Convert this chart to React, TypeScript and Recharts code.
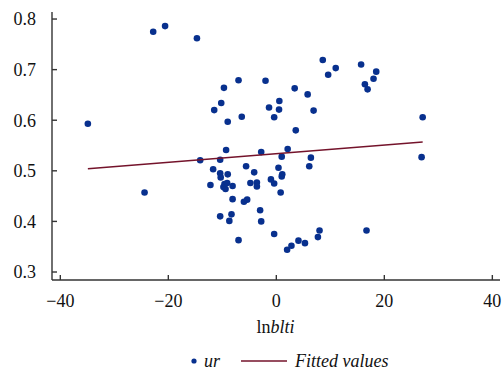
import { ScatterChart, Scatter, XAxis, YAxis } from "recharts"

// ur against lnblti
const lnblti = [
  -34.9, -24.4, -22.8, -20.6, -14.7, -14.1, -12.2, -11.7, -11.5, -10.4,
  -10.4, -10.3, -10.2, -10.4, -9.7, -9.6, -9.8, -9.4, -9.3, -9.1,
  -9.0, -9.0, -8.7, -8.3, -8.1, -8.1, -7.0, -7.0, -6.4, -6.0,
  -5.6, -5.4, -4.8, -4.1, -3.6, -3.6, -3.0, -2.8, -2.8, -2.0,
  -1.35, -1.0, -0.4, -0.4, -0.4, 0.4, 0.5, 0.56, 0.8, 1.0,
  1.1, 1.0, 2.0, 2.1, 2.8, 3.4, 3.6, 4.1, 5.3, 5.8,
  6.1, 6.4, 6.9, 7.7, 8.0, 8.6, 9.6, 11.0, 15.7, 16.4,
  16.7, 16.9, 18.0, 18.5, 26.9, 27.1,
]
const ur = [
  0.593, 0.457, 0.775, 0.786, 0.762, 0.521, 0.472, 0.503, 0.62, 0.522,
  0.495, 0.487, 0.634, 0.41, 0.664, 0.474, 0.468, 0.464, 0.541, 0.476,
  0.493, 0.597, 0.401, 0.414, 0.47, 0.444, 0.679, 0.363, 0.607, 0.439,
  0.509, 0.443, 0.476, 0.497, 0.477, 0.469, 0.422, 0.4, 0.537, 0.678,
  0.625, 0.483, 0.475, 0.606, 0.375, 0.506, 0.621, 0.638, 0.457, 0.528,
  0.493, 0.489, 0.344, 0.543, 0.352, 0.663, 0.58, 0.362, 0.357, 0.651,
  0.509, 0.526, 0.619, 0.369, 0.382, 0.719, 0.69, 0.703, 0.71, 0.671,
  0.382, 0.661, 0.682, 0.696, 0.527, 0.606,
]
const fitX = [-34.9, 27.1]
const fitY = [0.504, 0.557]
const xTicks = [-40, -20, 0, 20, 40]
const yTicks = [0.3, 0.4, 0.5, 0.6, 0.7, 0.8]

const points = lnblti.map((x, i) => ({ x, y: ur[i] }))
const fitted = fitX.map((x, i) => ({ x, y: fitY[i] }))

const NAVY = "#08308e"
const MAROON = "#74132b"
const AXIS = "#333"
const INK = "#111"
const FONT = "Liberation Serif"

const fmtX = (v: number) => (v < 0 ? "\u2212" + Math.abs(v) : String(v))

const Dot = (props: any) => <circle cx={props.cx} cy={props.cy} r={3.3} fill={NAVY} />
const NoDot = () => <g />

const XTick = (props: any) => (
  <text x={props.x} y={props.y} dy="0.71em" textAnchor="middle" fontSize={18} fontFamily={FONT} fill={INK}>
    {fmtX(props.payload.value)}
  </text>
)
const YTick = (props: any) => (
  <text x={props.x} y={props.y} dy="0.355em" textAnchor="end" fontSize={18} fontFamily={FONT} fill={INK}>
    {Number(props.payload.value).toFixed(1)}
  </text>
)

export default function App() {
  return (
    <div style={{ position: "absolute", left: 0, top: 0, width: 502, height: 370, background: "#fff" }}>
      <ScatterChart width={502} height={370} margin={{ top: 12, right: 2, bottom: 30, left: 0 }}>
        <XAxis
          type="number"
          dataKey="x"
          domain={[-41.54, 41.42]}
          ticks={xTicks}
          height={60}
          tickSize={-5}
          tickMargin={19}
          stroke={AXIS}
          strokeWidth={1.4}
          tick={XTick}
          allowDataOverflow
        />
        <YAxis
          type="number"
          dataKey="y"
          domain={[0.2842, 0.8139]}
          ticks={yTicks}
          width={52}
          tickSize={-5}
          tickMargin={21}
          stroke={AXIS}
          strokeWidth={1.4}
          tick={YTick}
          allowDataOverflow
        />
        <Scatter data={points} shape={Dot} isAnimationActive={false} />
        <Scatter
          data={fitted}
          line={{ stroke: MAROON, strokeWidth: 1.4 }}
          shape={NoDot}
          isAnimationActive={false}
        />
      </ScatterChart>

      {/* axis title and legend */}
      <svg width={502} height={60} style={{ position: "absolute", left: 0, top: 310 }}>
        <text x={275.5} y={23.3} textAnchor="middle" fontSize={18} fontFamily={FONT} fill={INK}>
          ln<tspan fontStyle="italic">blti</tspan>
        </text>
        <circle cx={194} cy={51} r={2.6} fill={NAVY} />
        <text x={204} y={56.5} fontSize={18} fontStyle="italic" fontFamily={FONT} fill={INK}>ur</text>
        <line x1={241} x2={287} y1={51} y2={51} stroke={MAROON} strokeWidth={1.4} />
        <text x={295} y={56.5} fontSize={18} fontStyle="italic" fontFamily={FONT} fill={INK}>Fitted values</text>
      </svg>
    </div>
  )
}
